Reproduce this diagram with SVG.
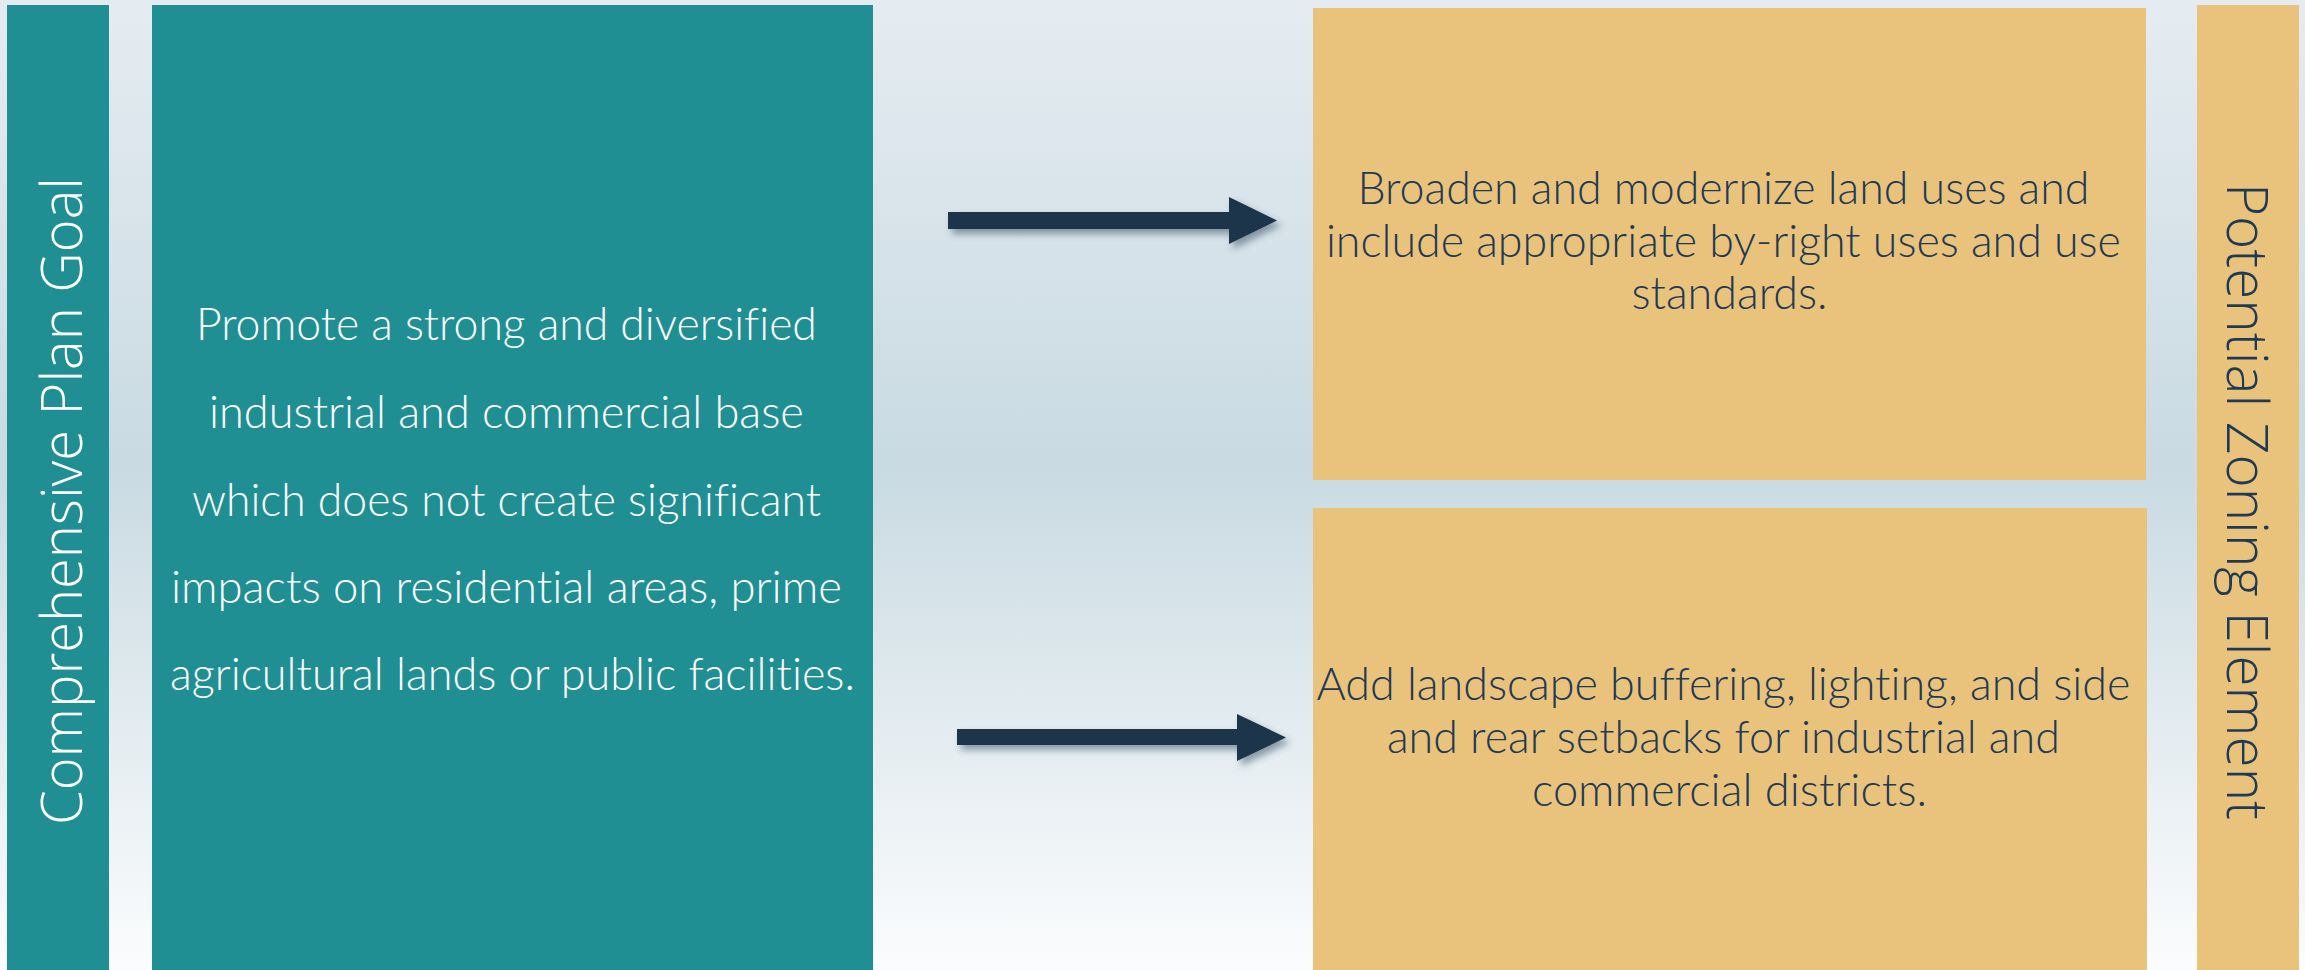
<svg xmlns="http://www.w3.org/2000/svg" width="2305" height="970" viewBox="0 0 2305 970">
  <defs>
    <linearGradient id="bg" x1="0" y1="0" x2="0" y2="1">
      <stop offset="0" stop-color="#e5ecf1"/>
      <stop offset="0.48" stop-color="#c9dae2"/>
      <stop offset="1" stop-color="#fbfcfd"/>
    </linearGradient>
    <filter id="shadow" x="-10%" y="-50%" width="120%" height="200%">
      <feDropShadow dx="4" dy="5" stdDeviation="3.5" flood-color="#1f344b" flood-opacity="0.45"/>
    </filter>
    <style>
      .teal { fill: #208f93; }
      .gold { fill: #e9c37b; }
      .arrow { fill: #1f344b; filter: url(#shadow); }
      .body { font-family: Lato, "Open Sans", "Liberation Sans", sans-serif; font-weight: 300; font-size: 45px; text-anchor: middle; font-variant-ligatures: none; font-feature-settings: "liga" 0, "dlig" 0; }
      .white { fill: #ffffff; }
      .navy { fill: #1f3a55; }
      .side { font-family: "Open Sans", "Noto Sans", "Liberation Sans", sans-serif; font-weight: 300; font-size: 57px; }
    </style>
  </defs>

  <rect x="0" y="0" width="2305" height="970" fill="url(#bg)"/>

  <g id="comprehensive-plan-goal-label">
    <rect class="teal" x="7" y="5" width="102" height="965"/>
    <text class="side white" transform="translate(82,825) rotate(-90)" textLength="648" lengthAdjust="spacingAndGlyphs">Comprehensive Plan Goal</text>
  </g>

  <g id="goal">
    <rect class="teal" x="152" y="5" width="721" height="965"/>
    <text class="body white">
      <tspan x="512.5" y="340" textLength="621" lengthAdjust="spacingAndGlyphs">Promote a strong and diversified</tspan>
      <tspan x="512.5" y="428" textLength="595" lengthAdjust="spacingAndGlyphs">industrial and commercial base</tspan>
      <tspan x="512.5" y="516" textLength="629" lengthAdjust="spacingAndGlyphs">which does not create significant</tspan>
      <tspan x="512.5" y="603" textLength="671" lengthAdjust="spacingAndGlyphs">impacts on residential areas, prime</tspan>
      <tspan x="512.5" y="690" textLength="685" lengthAdjust="spacingAndGlyphs">agricultural lands or public facilities.</tspan>
    </text>
  </g>

  <g id="connectors">
    <polygon class="arrow" points="948,212 1229,212 1229,197 1277,220.5 1229,244 1229,229 948,229"/>
    <polygon class="arrow" points="957,729 1237,729 1237,714 1286,737.5 1237,761 1237,745 957,745"/>
  </g>

  <g id="element-land-uses">
    <rect class="gold" x="1313" y="8" width="833" height="472"/>
    <text class="body navy">
      <tspan x="1729.5" y="204" textLength="732" lengthAdjust="spacingAndGlyphs">Broaden and modernize land uses and</tspan>
      <tspan x="1729.5" y="257" textLength="795" lengthAdjust="spacingAndGlyphs">include appropriate by-right uses and use</tspan>
      <tspan x="1729.5" y="309" textLength="196" lengthAdjust="spacingAndGlyphs">standards.</tspan>
    </text>
  </g>

  <g id="element-buffering">
    <rect class="gold" x="1313" y="508" width="834" height="462"/>
    <text class="body navy">
      <tspan x="1729.5" y="700" textLength="814" lengthAdjust="spacingAndGlyphs">Add landscape buffering, lighting, and side</tspan>
      <tspan x="1729.5" y="753" textLength="673" lengthAdjust="spacingAndGlyphs">and rear setbacks for industrial and</tspan>
      <tspan x="1729.5" y="806" textLength="395" lengthAdjust="spacingAndGlyphs">commercial districts.</tspan>
    </text>
  </g>

  <g id="potential-zoning-element-label">
    <rect class="gold" x="2197" y="5" width="102" height="965"/>
    <text class="side navy" transform="translate(2227,183) rotate(90)" textLength="637" lengthAdjust="spacingAndGlyphs">Potential Zoning Element</text>
  </g>
</svg>
